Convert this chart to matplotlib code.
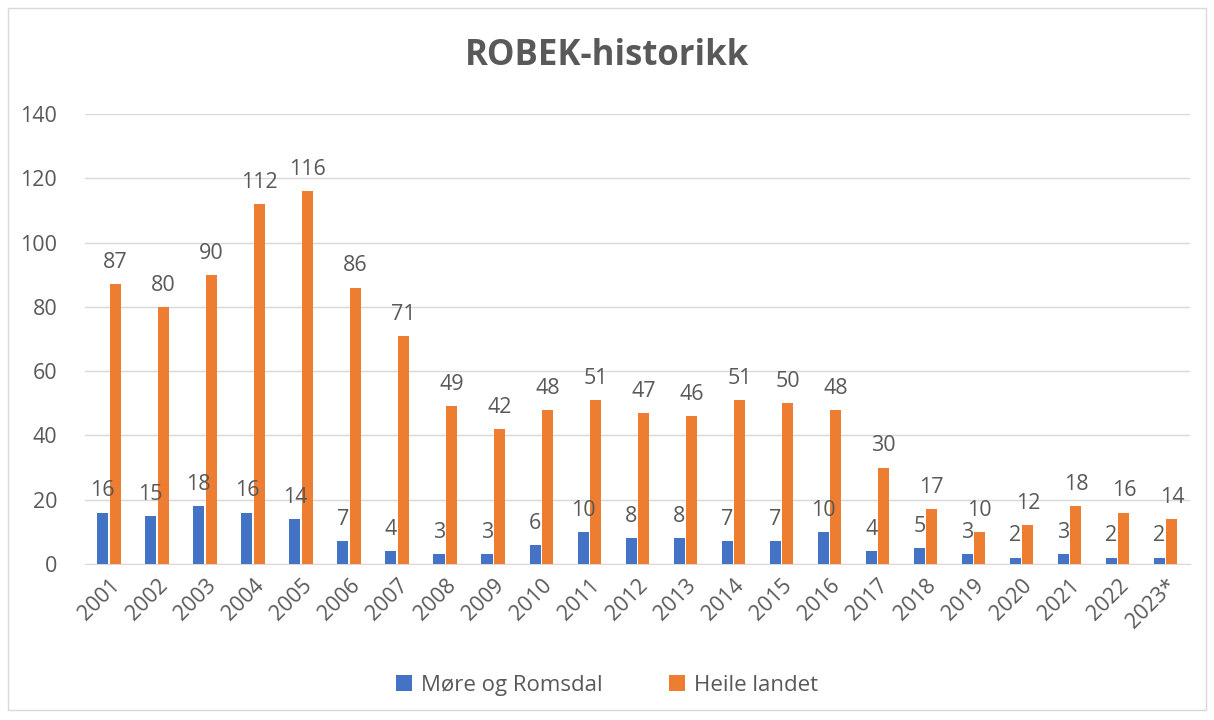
import matplotlib.pyplot as plt
import numpy as np

plt.rcParams['font.family'] = ['Open Sans', 'DejaVu Sans']

years = ["2001", "2002", "2003", "2004", "2005", "2006", "2007", "2008", "2009", "2010",
         "2011", "2012", "2013", "2014", "2015", "2016", "2017", "2018", "2019", "2020",
         "2021", "2022", "2023*"]
more_romsdal = [16, 15, 18, 16, 14, 7, 4, 3, 3, 6, 10, 8, 8, 7, 7, 10, 4, 5, 3, 2, 3, 2, 2]
heile_landet = [87, 80, 90, 112, 116, 86, 71, 49, 42, 48, 51, 47, 46, 51, 50, 48, 30, 17, 10, 12, 18, 16, 14]

blue = "#4472C4"
orange = "#ED7D31"
text_col = "#595959"

fig = plt.figure(figsize=(12.14, 7.2), dpi=100)
# outer chart border
fig.patches.append(plt.Rectangle((0.007, 0.014), 0.986, 0.975, transform=fig.transFigure,
                                 fill=False, edgecolor="#d9d9d9", linewidth=1))
ax = fig.add_axes([0.070, 0.2167, 0.910, 0.625])

x = np.arange(len(years))
w = 0.23
gap = 0.03
b1 = ax.bar(x - w / 2 - gap / 2, more_romsdal, w, color=blue, label="Møre og Romsdal", zorder=3)
b2 = ax.bar(x + w / 2 + gap / 2, heile_landet, w, color=orange, label="Heile landet", zorder=3)

ax.bar_label(b1, padding=8, fontsize=15.5, color=text_col)
ax.bar_label(b2, padding=8, fontsize=15.5, color=text_col)

ax.set_xlim(-0.5, len(years) - 0.5)
ax.set_ylim(0, 140)
ax.set_yticks(range(0, 141, 20))
ax.set_xticks(x)
ax.set_xticklabels(years, rotation=45, ha="right", rotation_mode="anchor")
ax.tick_params(axis="both", length=0, labelsize=15.5, labelcolor=text_col)
ax.tick_params(axis="y", pad=20)
ax.tick_params(axis="x", pad=8)
ax.grid(axis="y", color="#d9d9d9", linewidth=1, zorder=0)
for s in ["top", "right", "left"]:
    ax.spines[s].set_visible(False)
ax.spines["bottom"].set_color("#d9d9d9")

fig.text(0.5, 0.922, "ROBEK-historikk", ha="center", va="center", fontsize=25,
         fontweight="bold", color=text_col)

fig.legend(handles=[b1, b2], loc="center", bbox_to_anchor=(0.5, 0.048), ncol=2, frameon=False,
           fontsize=16, labelcolor=text_col, handlelength=0.7, handleheight=0.7,
           columnspacing=3.0, handletextpad=0.4)

fig.savefig("out.png", dpi=100)
